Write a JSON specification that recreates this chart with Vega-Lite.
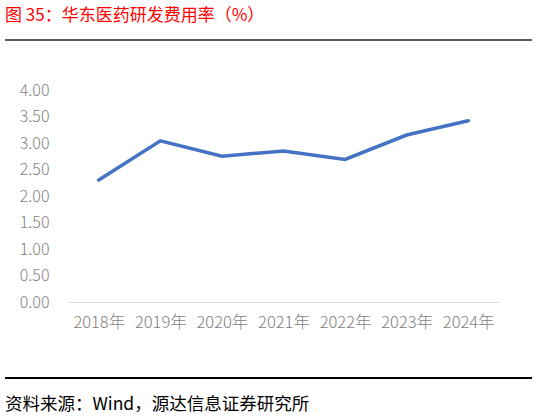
{
  "$schema": "https://vega.github.io/schema/vega-lite/v6.json",
  "width": 431,
  "height": 212,
  "autosize": "none",
  "padding": {"left": 68, "top": 90, "right": 39, "bottom": 116},
  "background": "white",
  "layer": [
    {
      "data": {
        "values": [
          {"year": "2018年", "rate": 2.30},
          {"year": "2019年", "rate": 3.04},
          {"year": "2020年", "rate": 2.75},
          {"year": "2021年", "rate": 2.85},
          {"year": "2022年", "rate": 2.69},
          {"year": "2023年", "rate": 3.15},
          {"year": "2024年", "rate": 3.42}
        ]
      },
      "mark": {"type": "line", "color": "#4472c4", "strokeWidth": 3.5, "strokeCap": "round"},
      "encoding": {
        "x": {
          "field": "year",
          "type": "ordinal",
          "scale": {"type": "point", "padding": 0.5},
          "axis": {
            "title": null,
            "labelAngle": 0,
            "ticks": false,
            "domainColor": "#d9d9d9",
            "domainWidth": 1,
            "labelPadding": 12,
            "labelFontSize": 16.5,
            "labelColor": "#7f7f7f",
            "labelFont": "Noto Sans CJK SC",
            "labelFontWeight": 300
          }
        },
        "y": {
          "field": "rate",
          "type": "quantitative",
          "scale": {"domain": [0, 4]},
          "axis": {
            "title": null,
            "values": [0, 0.5, 1, 1.5, 2, 2.5, 3, 3.5, 4],
            "format": ".2f",
            "grid": false,
            "domain": false,
            "ticks": false,
            "labelPadding": 19,
            "labelFontSize": 16,
            "labelColor": "#7f7f7f",
            "labelFont": "Noto Sans CJK SC",
            "labelFontWeight": 300
          }
        }
      }
    },
    {
      "data": {"values": [{"pos": "top"}]},
      "mark": {"type": "rule", "color": "#222222", "strokeWidth": 1.5},
      "encoding": {
        "x": {"value": -63},
        "x2": {"value": 464},
        "y": {"value": -50}
      }
    },
    {
      "data": {"values": [{"pos": "bottom"}]},
      "mark": {"type": "rule", "color": "#000000", "strokeWidth": 2},
      "encoding": {
        "x": {"value": -63},
        "x2": {"value": 464},
        "y": {"value": 288}
      }
    },
    {
      "data": {"values": [{"label": "图 35：华东医药研发费用率（%）"}]},
      "mark": {
        "type": "text",
        "align": "left",
        "baseline": "middle",
        "fontSize": 17,
        "color": "#ff0000",
        "font": "Noto Sans CJK SC"
      },
      "encoding": {
        "text": {"field": "label"},
        "x": {"value": -63},
        "y": {"value": -74}
      }
    },
    {
      "data": {"values": [{"source": "资料来源：Wind，源达信息证券研究所"}]},
      "mark": {
        "type": "text",
        "align": "left",
        "baseline": "middle",
        "fontSize": 17.5,
        "color": "#000000",
        "font": "Noto Sans CJK SC"
      },
      "encoding": {
        "text": {"field": "source"},
        "x": {"value": -63},
        "y": {"value": 315}
      }
    }
  ],
  "config": {"view": {"stroke": null}}
}
